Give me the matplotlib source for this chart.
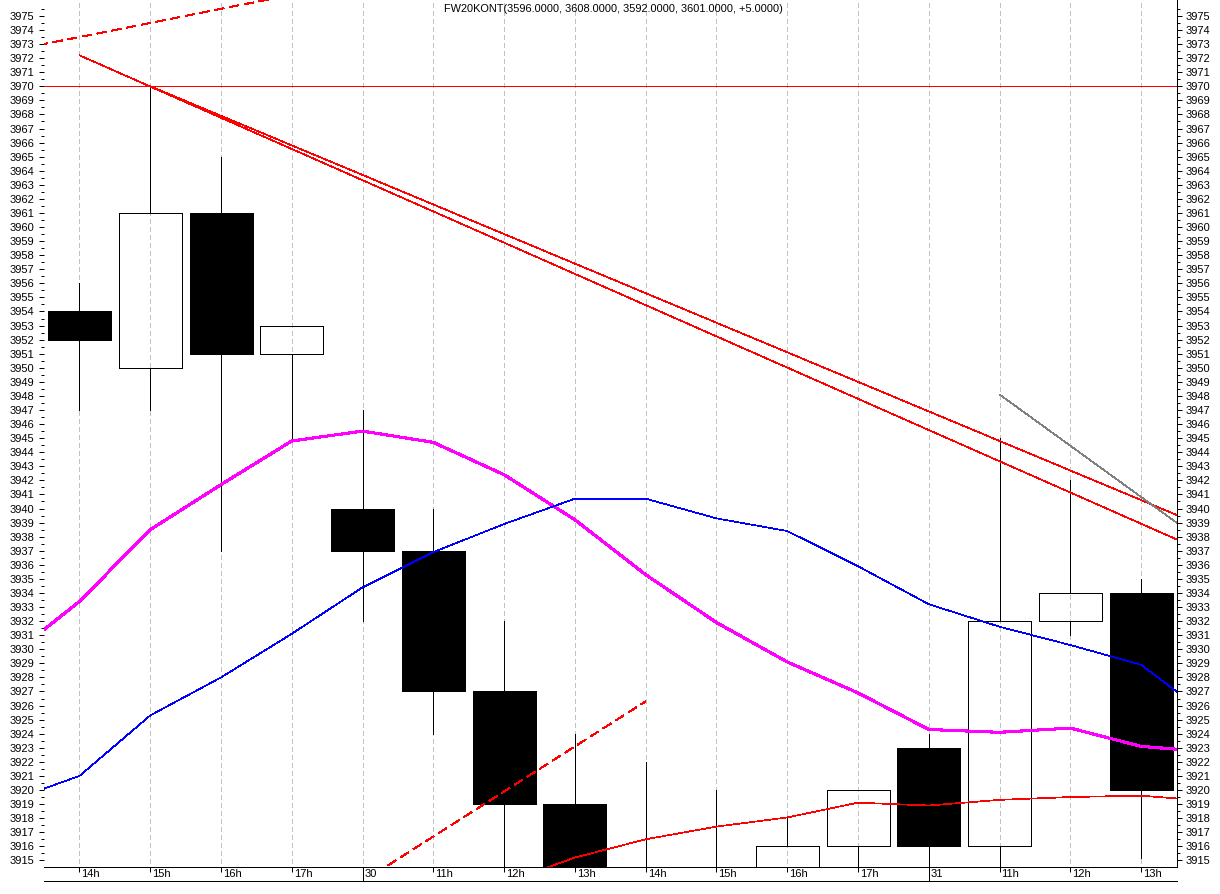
import matplotlib
matplotlib.use("Agg")
import matplotlib.pyplot as plt
import matplotlib.transforms as mtransforms
from matplotlib.patches import Rectangle
from matplotlib.lines import Line2D
import numpy as np

plt.rcParams["font.family"] = ["Liberation Sans", "DejaVu Sans"]
plt.rcParams["lines.scale_dashes"] = False
plt.rcParams["lines.antialiased"] = False
plt.rcParams["patch.antialiased"] = False

# bar labels (hourly bars over two sessions)
labels = ["14h", "15h", "16h", "17h", "30", "11h", "12h", "13h",
          "14h", "15h", "16h", "17h", "31", "11h", "12h", "13h"]
day_breaks = [4, 12]

# OHLC
opens = [3954, 3950, 3961, 3951, 3940, 3937, 3927, 3919, 3913, 3911, 3912, 3916, 3923, 3916, 3932, 3934]
closes = [3952, 3961, 3951, 3953, 3937, 3927, 3919, 3912, 3911, 3913, 3916, 3920, 3916, 3932, 3934, 3920]
highs = [3956, 3970, 3965, 3953, 3947, 3940, 3932, 3924, 3922, 3920, 3918, 3920, 3924, 3945, 3942, 3935]
lows = [3947, 3947, 3937, 3945, 3932, 3924, 3912, 3910, 3909, 3909, 3910, 3912, 3913, 3913, 3931, 3915.2]

# indicators (one value per bar, plus one bar past each edge)
ind_x = list(range(-1, 17))
magenta_vals = [3929.4, 3933.4, 3938.5, 3941.7, 3944.8, 3945.5, 3944.7, 3942.4, 3939.2,
                3935.3, 3931.9, 3929.1, 3926.9, 3924.3, 3924.1, 3924.4, 3923.1, 3922.7]
blue_vals = [3919.2, 3921.0, 3925.3, 3928.0, 3931.1, 3934.4, 3936.9, 3938.9, 3940.7,
             3940.7, 3939.3, 3938.4, 3935.9, 3933.2, 3931.6, 3930.3, 3928.9, 3925.1]
red_ma_x = list(range(6, 17))
red_ma_vals = [3913.4, 3915.2, 3916.5, 3917.4, 3918.05, 3919.1, 3918.9, 3919.3, 3919.5, 3919.6, 3919.2]

# drawn lines
level_line = 3970
trend_a_x, trend_a_y = [0, 16], [3972.2, 3936.7]
trend_b_x, trend_b_y = [1, 16], [3970.0, 3938.5]
dash_a_x, dash_a_y = [-1, 3], [3972.5, 3976.5]
dash_b_x, dash_b_y = [4, 8], [3913.5, 3926.3]
gray_x, gray_y = [13, 15.5], [3948.1, 3939.0]

title = "FW20KONT(3596.0000, 3608.0000, 3592.0000, 3601.0000, +5.0000)"

W, H = 1220, 894
px = 0.5   # thin one-pixel lines
fs = 8

fig = plt.figure(figsize=(W / 100, H / 100), dpi=100)
ax = fig.add_axes([44.1 / W, 27 / H, (1176.5 - 44.1) / W, 867 / H])
ax.set_xlim(-0.5, 15.5)
ax.set_ylim(3914.53, 3976.13)

# vertical dashed grid
ax.vlines(range(len(labels)), 3900, 3990, colors="#c0c0c0", lw=px,
          linestyles=[(0, (2.9, 2.2))], zorder=0)

# candles
width = 0.89
for i in range(len(labels)):
    o, c, h, l = opens[i], closes[i], highs[i], lows[i]
    top, bot = max(o, c), min(o, c)
    ax.vlines(i, top, h, colors="black", lw=px, zorder=2)
    ax.vlines(i, l, bot, colors="black", lw=px, zorder=2)
    if c < o:
        rect = Rectangle((i - width / 2, bot), width, top - bot,
                         facecolor="black", edgecolor="black", lw=px, zorder=3)
    else:
        rect = Rectangle((i - width / 2, bot), width, top - bot,
                         fill=False, edgecolor="black", lw=px, zorder=3)
    ax.add_patch(rect)

# indicators
ax.plot(ind_x, magenta_vals, color="#ff00ff", lw=1.5, zorder=4)
ax.plot(ind_x, blue_vals, color="#0000ff", lw=px, zorder=4)
ax.plot(red_ma_x, red_ma_vals, color="#ff0000", lw=px, zorder=4)

ax.axhline(level_line, color="#ff0000", lw=px, zorder=4)
ax.plot(trend_a_x, trend_a_y, color="#ff0000", lw=px, zorder=4)
ax.plot(trend_b_x, trend_b_y, color="#ff0000", lw=px, zorder=4)
ax.plot(dash_a_x, dash_a_y, color="#ff0000", lw=px, ls=(0, (6.5, 3.6)), zorder=4)
ax.plot(dash_b_x, dash_b_y, color="#ff0000", lw=px, ls=(0, (6.5, 3.6)), zorder=4)
ax.plot(gray_x, gray_y, color="#808080", lw=px, zorder=4)

# spines
for side in ["top", "left"]:
    ax.spines[side].set_visible(False)
for side in ["right", "bottom"]:
    ax.spines[side].set_linewidth(0.72)

# y axis on both sides
ax.set_yticks(np.arange(3915, 3976, 1))
ax.set_yticks(np.arange(3915.5, 3976.5, 1), minor=True)
ax.tick_params(axis="y", which="both", left=True, right=True,
               labelleft=True, labelright=True, direction="out",
               width=0.72, labelsize=fs)
ax.tick_params(axis="y", which="major", length=3.8, pad=3.0)
ax.tick_params(axis="y", which="minor", length=1.9)

# x axis ticks and labels
ax.set_xticks(range(len(labels)))
ax.set_xticklabels([])
ax.tick_params(axis="x", which="major", length=3.6, width=0.72, direction="out")
lab_trans = mtransforms.blended_transform_factory(ax.transData, ax.transAxes) + \
    mtransforms.ScaledTranslation(2 / 100, -7 / 100, fig.dpi_scale_trans)
for i, lab in enumerate(labels):
    ax.text(i, 0, lab, transform=lab_trans, ha="left", va="center", fontsize=fs)

# day separators down to the lower frame line
sep_trans = mtransforms.blended_transform_factory(ax.transData, ax.transAxes)
for d in day_breaks:
    ax.plot([d, d], [0, -14 / 867], transform=sep_trans, color="black",
            lw=0.72, clip_on=False, zorder=5)

fig.add_artist(Line2D([44 / W, 1177 / W], [13 / H, 13 / H], color="black", lw=0.72))

fig.text(444 / W, 1 - 9 / H, title, ha="left", va="center", fontsize=7.9)

fig.savefig("out.png", dpi=100)
